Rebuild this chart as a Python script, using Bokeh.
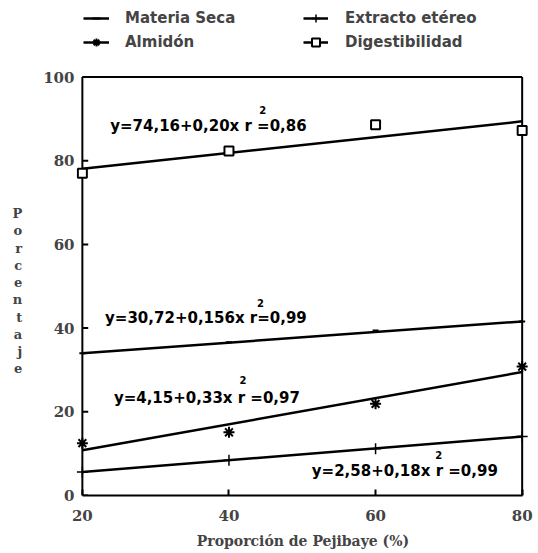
from bokeh.plotting import figure
from bokeh.models import FixedTicker, Legend, LegendItem, Range1d
from bokeh.core.properties import value
from bokeh.embed import file_html
from bokeh.resources import INLINE

# ---- data ----
proporcion = [20, 40, 60, 80]
materia_seca = [34.0, 36.6, 39.4, 41.6]
almidon = [12.5, 15.1, 21.9, 30.8]
extracto = [5.6, 8.4, 11.2, 14.1]
digestibilidad = [77.0, 82.3, 88.6, 87.2]

fit_x = [20, 80]
materia_seca_fit = [34.0, 41.6]
almidon_fit = [10.8, 29.5]
extracto_fit = [5.6, 14.1]
digestibilidad_fit = [78.1, 89.4]

ecuaciones = ["y=74,16+0,20x r =0,86", "y=30,72+0,156x r=0,99",
              "y=4,15+0,33x r =0,97", "y=2,58+0,18x r =0,99"]

x_ticks = [20, 40, 60, 80]
y_ticks = [0, 20, 40, 60, 80, 100]

SANS = value("DejaVu Sans")
SERIF = "DejaVu Serif"

x0, x1 = x_ticks[0], x_ticks[-1]
y0, y1 = y_ticks[0], y_ticks[-1]

# the frame reaches up to the top of the page so that the legend fits in it
p = figure(width=538, height=553, output_backend="svg", toolbar_location=None,
           x_range=Range1d(x0 - 0.8, x1 + 1.0), y_range=Range1d(y0, 118.28),
           min_border_left=76, min_border_right=9, min_border_top=0,
           min_border_bottom=58)
p.background_fill_color = "white"
p.border_fill_color = "white"
p.xgrid.visible = False
p.ygrid.visible = False
p.outline_line_color = None

for ax in (p.xaxis[0], p.yaxis[0]):
    ax.axis_line_width = 2
    ax.major_tick_in = 6
    ax.major_tick_out = 0
    ax.major_tick_line_width = 2
    ax.minor_tick_line_color = None
    ax.major_label_text_font = SERIF
    ax.major_label_text_font_style = "bold"
    ax.major_label_text_font_size = "15px"
    ax.axis_label_text_font = SERIF
    ax.axis_label_text_font_style = "bold"

p.xaxis.ticker = FixedTicker(ticks=x_ticks)
p.yaxis.ticker = FixedTicker(ticks=y_ticks)
p.xaxis.bounds = (x0, x1)
p.yaxis.bounds = (y0, y1)
p.yaxis.axis_line_color = None
p.yaxis.major_tick_line_color = None
p.xaxis.major_label_standoff = 14
p.yaxis.major_label_standoff = 2
p.xaxis.axis_label = "Proporción de Pejibaye (%)"
p.xaxis.axis_label_text_font_size = "14px"
p.xaxis.axis_label_standoff = 9
# leading blank lines push the stacked letters down to the middle of the box
p.yaxis.axis_label = "\n" * 5 + "\n".join("Porcentaje")
p.yaxis.axis_label_orientation = "horizontal"
p.yaxis.axis_label_text_font_size = "13px"
p.yaxis.axis_label_text_line_height = 1.15
p.yaxis.axis_label_standoff = 18

# plot box (left, right, top) and inward y ticks
p.segment(x0=[x0, x1, x0], y0=[y0, y0, y1], x1=[x0, x1, x1], y1=[y1, y1, y1],
          line_color="black", line_width=2)
p.segment(x0=[x0] * len(y_ticks), y0=y_ticks, x1=[x0 + 0.8] * len(y_ticks),
          y1=y_ticks, line_color="black", line_width=2)

# fitted lines
l_ms = p.line(fit_x, materia_seca_fit, line_color="black", line_width=2.5)
l_al = p.line(fit_x, almidon_fit, line_color="black", line_width=2.5)
l_ex = p.line(fit_x, extracto_fit, line_color="black", line_width=2.5)
l_di = p.line(fit_x, digestibilidad_fit, line_color="black", line_width=2.5)

# markers
m_ms = p.scatter(proporcion, materia_seca, marker="dash", size=6,
                 line_color="black", line_width=2)
m_al = p.scatter(proporcion, almidon, marker="asterisk", size=11,
                 line_color="black", line_width=2)
m_ex = p.scatter(proporcion, extracto, marker="cross", size=11,
                 line_color="black", line_width=1.5)
m_di = p.scatter(proporcion, digestibilidad, marker="square", size=9,
                 line_color="black", line_width=2, fill_color="white")

# equations
eq_x = [23.8, 23.1, 24.3, 51.3]
eq_y = [88.4, 42.3, 23.2, 5.8]
p.text(eq_x, eq_y, text=ecuaciones, text_font=SANS, text_font_style="bold",
       text_font_size="15px", text_baseline="middle", text_align="left",
       text_color="black")
sup_x = [44.6, 44.3, 41.9, 68.6]
sup_y = [92.0, 45.9, 27.6, 9.6]
p.text(sup_x, sup_y, text=["2", "2", "2", "2"], text_font=SANS,
       text_font_style="bold", text_font_size="10px", text_baseline="middle",
       text_align="center", text_color="black")

# legends
def make_legend(items, loc, gw, standoff):
    lg = Legend(items=items, location=loc, orientation="vertical",
                glyph_width=gw, glyph_height=20, label_height=20, spacing=4,
                label_standoff=standoff, padding=0, margin=0,
                border_line_color=None, background_fill_alpha=0,
                label_text_font="DejaVu Sans", label_text_font_style="bold",
                label_text_font_size="15px")
    return lg

lg1 = make_legend([LegendItem(label="Materia Seca", renderers=[l_ms, m_ms]),
                   LegendItem(label="Almidón", renderers=[l_al, m_al])],
                  (7, 443), 26, 16)
lg2 = make_legend([LegendItem(label="Extracto etéreo", renderers=[l_ex, m_ex]),
                   LegendItem(label="Digestibilidad", renderers=[l_di, m_di])],
                  (227, 443), 25, 17)
p.add_layout(lg1, "center")
p.add_layout(lg2, "center")

open("out.html", "w").write(file_html(p, INLINE))
